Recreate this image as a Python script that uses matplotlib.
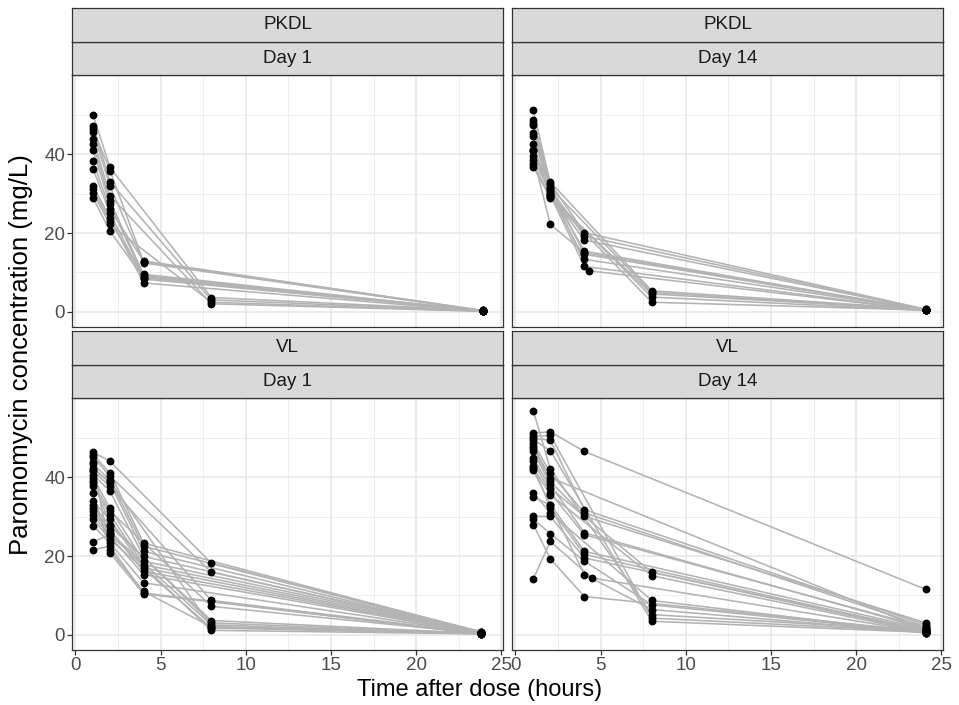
import numpy as np
import matplotlib.pyplot as plt

plt.rcParams['font.family'] = ['Liberation Sans', 'DejaVu Sans']

nan = np.nan

# sampling times (h) per panel, one column per nominal time
pkdl_d1_times = [1.04, 2.03, 4.0, 7.98, 23.9]
pkdl_d1_conc = [
    [50.0, 36.7, nan, 3.6, 0.3],
    [47.3, 33.0, nan, 3.0, 0.2],
    [46.4, 35.9, 12.7, nan, 0.3],
    [45.8, 31.9, 12.4, nan, 0.2],
    [44.0, 29.5, nan, 2.0, 0.1],
    [42.6, 28.1, 9.5, nan, 0.2],
    [41.0, 27.3, 8.9, nan, 0.2],
    [38.2, 26.0, 12.9, nan, 0.3],
    [36.3, 25.0, 8.3, nan, 0.2],
    [31.9, 23.9, 7.3, nan, 0.1],
    [31.1, 23.0, 9.2, nan, 0.2],
    [30.1, 22.2, nan, 2.4, 0.1],
    [28.9, 20.5, 8.6, nan, 0.2],
]

pkdl_d14_times = [1.05, 2.05, 4.05, 4.3, 8.0, 24.1]
pkdl_d14_conc = [
    [51.3, 32.6, 20.1, nan, nan, 0.6],
    [48.8, 31.2, 19.2, nan, nan, 0.5],
    [48.1, 33.0, nan, nan, 5.3, 0.6],
    [47.5, 29.9, 18.2, nan, nan, 0.5],
    [45.5, 31.5, nan, nan, 4.9, 0.5],
    [44.6, 30.5, 15.4, nan, nan, 0.4],
    [42.6, 29.2, nan, nan, 4.5, 0.5],
    [41.2, 31.8, 14.6, nan, nan, 0.4],
    [40.8, 30.0, 13.3, nan, nan, 0.4],
    [41.0, 29.5, nan, nan, 3.7, 0.3],
    [39.5, 22.2, 15.0, nan, nan, 0.4],
    [38.5, 30.8, nan, 10.4, nan, 0.3],
    [37.5, 29.6, 11.5, nan, nan, 0.3],
    [36.8, 29.0, nan, nan, 2.4, 0.4],
]

vl_d1_times = [1.04, 2.03, 4.0, 7.98, 23.8]
vl_d1_conc = [
    [46.4, 44.1, nan, 18.2, 0.8],
    [45.8, 41.1, 23.3, nan, 0.6],
    [45.2, 40.3, nan, 15.9, 0.7],
    [43.3, 39.4, 22.5, nan, 0.5],
    [42.4, 38.6, 21.2, nan, 0.5],
    [41.6, 37.7, nan, 8.7, 0.4],
    [40.7, 36.5, 19.9, nan, 0.4],
    [39.9, 32.2, 18.7, nan, 0.5],
    [38.6, 31.4, nan, 7.2, 0.3],
    [37.7, 30.5, 17.8, nan, 0.4],
    [33.9, 29.3, 17.0, nan, 0.3],
    [33.1, 27.6, nan, 3.6, 0.3],
    [32.2, 26.7, 16.1, nan, 0.4],
    [31.4, 25.9, nan, 2.5, 0.2],
    [30.5, 25.0, 15.3, nan, 0.3],
    [29.5, 24.2, nan, 1.7, 0.2],
    [27.7, 23.3, 13.2, nan, 0.3],
    [23.6, 25.5, nan, 1.1, 0.2],
    [21.6, 22.5, 10.6, 8.5, 0.2],
    [44.0, 20.8, 10.4, nan, 0.2],
    [36.0, 21.5, 11.0, 2.0, 0.3],
    [42.0, 39.0, nan, 2.0, 0.4],
    [39.0, 28.0, nan, 3.0, 0.3],
]

vl_d14_times = [1.05, 2.05, 4.05, 4.5, 8.0, 24.1]
vl_d14_conc = [
    [57.0, 42.2, nan, nan, 5.1, 1.0],
    [51.3, 51.6, 46.6, nan, nan, 11.5],
    [50.5, 50.7, nan, nan, 4.2, 0.8],
    [50.0, 49.4, 31.8, nan, nan, 2.5],
    [49.6, 46.8, nan, nan, 3.4, 0.6],
    [48.8, 41.1, 31.0, nan, nan, 2.0],
    [48.0, 39.9, nan, nan, nan, 1.2],
    [47.5, 39.0, 30.1, nan, nan, 3.0],
    [46.6, 38.2, 25.9, nan, nan, 1.5],
    [45.0, 37.3, nan, nan, 15.9, 0.7],
    [44.1, 36.1, 25.4, nan, nan, 1.8],
    [42.4, 35.6, nan, nan, 15.0, 0.5],
    [41.8, 33.1, 21.2, nan, nan, 1.4],
    [43.0, 32.2, 20.4, nan, nan, 0.9],
    [36.1, 31.0, nan, nan, 8.7, 0.4],
    [30.1, 30.1, 19.5, nan, nan, 1.1],
    [29.4, 25.7, 18.7, nan, 7.6, 0.5],
    [28.0, 19.3, 9.7, nan, nan, 0.8],
    [14.2, 23.7, nan, 14.4, nan, 0.6],
    [35.0, 33.0, 15.3, nan, 6.4, 0.5],
]

disease = ["PKDL", "PKDL", "VL", "VL"]
day = ["Day 1", "Day 14", "Day 1", "Day 14"]
all_times = [pkdl_d1_times, pkdl_d14_times, vl_d1_times, vl_d14_times]
all_conc = [pkdl_d1_conc, pkdl_d14_conc, vl_d1_conc, vl_d14_conc]

x_ticks = [0, 5, 10, 15, 20, 25]
y_ticks = [0, 20, 40]

W, H = 959, 705
fig = plt.figure(figsize=(W / 100, H / 100), dpi=100)

lefts = [72, 512]
pw = 431
bottoms = [327, 650]  # pixel y of panel bottom edge
ph = 252
sh = 33.5

for k in range(4):
    r, c = k // 2, k % 2
    l = lefts[c] / W
    b = 1 - bottoms[r] / H
    ax = fig.add_axes([l, b, pw / W, ph / H])
    ax.set_facecolor('white')
    t = np.array(all_times[k])
    for row in all_conc[k]:
        v = np.array(row)
        m = ~np.isnan(v)
        ax.plot(t[m], v[m], color='#B3B3B3', lw=1.15, zorder=2)
    for row in all_conc[k]:
        v = np.array(row)
        m = ~np.isnan(v)
        ax.scatter(t[m], v[m], s=32, color='black', zorder=3, linewidths=0)
    ax.set_xlim(-0.2, 25.1)
    ax.set_ylim(-3.9, 60.2)
    ax.set_xticks(x_ticks)
    ax.set_yticks(y_ticks)
    ax.set_xticks([2.5, 7.5, 12.5, 17.5, 22.5], minor=True)
    ax.set_yticks([10, 30, 50], minor=True)
    ax.grid(which='major', color='#E8E8E8', lw=1.2, zorder=0)
    ax.grid(which='minor', color='#EBEBEB', lw=0.6, zorder=0)
    ax.set_axisbelow(True)
    for s in ax.spines.values():
        s.set_color('#333333')
        s.set_linewidth(0.9)
    ax.tick_params(which='minor', length=0)
    ax.tick_params(which='major', length=3.5, width=0.9, color='#333333',
                   labelsize=13.5, labelcolor='#4D4D4D', pad=1.5)
    if r == 0:
        ax.tick_params(axis='x', length=0, labelbottom=False)
    if c == 1:
        ax.tick_params(axis='y', length=0, labelleft=False)

    # two stacked strips
    top_px = bottoms[r] - ph
    for j, lab in enumerate([day[k], disease[k]]):
        sb = 1 - (top_px - sh * j) / H
        sax = fig.add_axes([l, sb, pw / W, sh / H])
        sax.set_facecolor('#D9D9D9')
        sax.set_xticks([])
        sax.set_yticks([])
        for s in sax.spines.values():
            s.set_color('#333333')
            s.set_linewidth(0.9)
        sax.text(0.5, 0.5, lab, ha='center', va='center', fontsize=13.5,
                 color='#1A1A1A', transform=sax.transAxes)

fig.text(0.5, 1 - 690 / H, 'Time after dose (hours)', ha='center', va='center',
         fontsize=17, color='black')
fig.text(21 / W, 1 - 355 / H, 'Paromomycin concentration (mg/L)', ha='center',
         va='center', rotation=90, fontsize=18.5, color='black')

fig.savefig('out.png', dpi=100)
